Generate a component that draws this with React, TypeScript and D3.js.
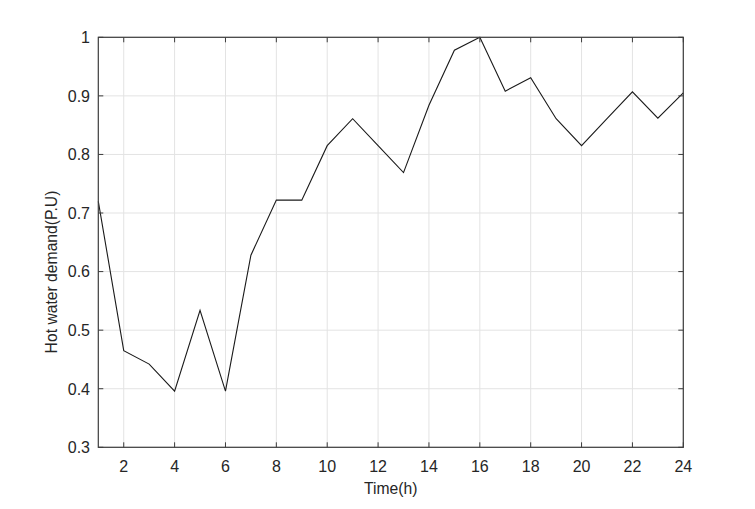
import React from "react";
import * as d3 from "d3";

const hours = [1,2,3,4,5,6,7,8,9,10,11,12,13,14,15,16,17,18,19,20,21,22,23,24];
const demand = [0.72,0.465,0.442,0.396,0.534,0.396,0.628,0.722,0.722,0.815,0.861,0.815,0.769,0.884,0.978,1.0,0.908,0.931,0.861,0.815,0.861,0.907,0.862,0.905];
const xTicks = [2,4,6,8,10,12,14,16,18,20,22,24];
const yTicks = [0.3,0.4,0.5,0.6,0.7,0.8,0.9,1];
const xLabel = "Time(h)";
const yLabel = "Hot water demand(P.U)";

const W = 755, H = 509;
const L = 98.3, R = 683.3, T = 37.3, B = 447.3;

export default function App() {
  const x = d3.scaleLinear().domain([1, 24]).range([L, R]);
  const y = d3.scaleLinear().domain([0.3, 1]).range([B, T]);
  const line = d3.line<number>().x((_, i) => x(hours[i])).y((d) => y(d));
  const font = "'Liberation Sans', Arial, Helvetica, sans-serif";
  const tc = "#262626";
  const ac = "#3c3c3c";
  return (
    <svg width={W} height={H} style={{ position: "absolute", left: 0, top: 0, background: "#fff" }}>
      <rect x={0} y={0} width={W} height={H} fill="#fff" />
      {xTicks.map((t) => (
        <line key={"gx" + t} x1={x(t)} x2={x(t)} y1={T} y2={B} stroke="#e3e3e3" strokeWidth={1} />
      ))}
      {yTicks.map((t) => (
        <line key={"gy" + t} x1={L} x2={R} y1={y(t)} y2={y(t)} stroke="#e3e3e3" strokeWidth={1} />
      ))}
      <path d={line(demand) || ""} fill="none" stroke="#1a1a1a" strokeWidth={1.1} />
      <rect x={L} y={T} width={R - L} height={B - T} fill="none" stroke={ac} strokeWidth={1.2} />
      {xTicks.map((t) => (
        <g key={"tx" + t}>
          <line x1={x(t)} x2={x(t)} y1={B} y2={B - 5} stroke={ac} strokeWidth={1} />
          <line x1={x(t)} x2={x(t)} y1={T} y2={T + 5} stroke={ac} strokeWidth={1} />
          <text x={x(t)} y={B + 24.2} textAnchor="middle" fontFamily={font} fontSize={16} fill={tc}>
            {t}
          </text>
        </g>
      ))}
      {yTicks.map((t) => (
        <g key={"ty" + t}>
          <line x1={L} x2={L + 5} y1={y(t)} y2={y(t)} stroke={ac} strokeWidth={1} />
          <line x1={R} x2={R - 5} y1={y(t)} y2={y(t)} stroke={ac} strokeWidth={1} />
          <text x={90} y={y(t) + 5.8} textAnchor="end" fontFamily={font} fontSize={16} fill={tc}>
            {d3.format("~g")(t)}
          </text>
        </g>
      ))}
      <text x={(L + R) / 2} y={494} textAnchor="middle" fontFamily={font} fontSize={15.7} fill={tc}>
        {xLabel}
      </text>
      <text
        transform="translate(57,272) rotate(-90)"
        textAnchor="middle"
        fontFamily={font}
        fontSize={15.7}
        fill={tc}
      >
        {yLabel}
      </text>
    </svg>
  );
}
